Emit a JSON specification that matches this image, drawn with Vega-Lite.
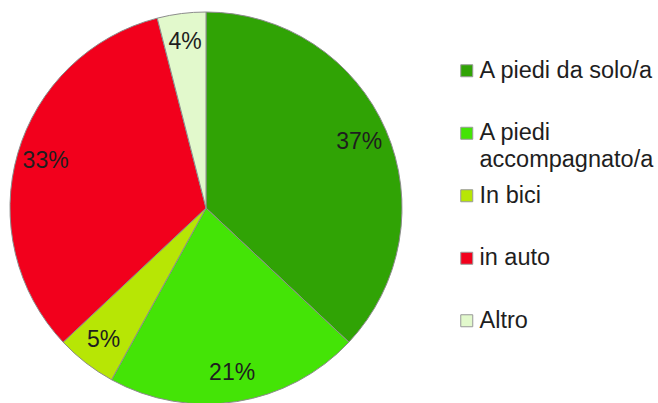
{
  "$schema": "https://vega.github.io/schema/vega-lite/v6.json",
  "width": 412,
  "height": 416,
  "autosize": {"type": "none"},
  "padding": {"left": 0, "top": 0, "right": 246, "bottom": 0},
  "background": "white",
  "config": {
    "view": {"stroke": null},
    "font": "Liberation Sans",
    "style": {"guide-label": {"lineHeight": 27}}
  },
  "data": {
    "values": [
      {"mezzo": "A piedi da solo/a", "quota": 0.37, "ord": 1},
      {"mezzo": "A piedi accompagnato/a", "quota": 0.21, "ord": 2},
      {"mezzo": "In bici", "quota": 0.05, "ord": 3},
      {"mezzo": "in auto", "quota": 0.33, "ord": 4},
      {"mezzo": "Altro", "quota": 0.04, "ord": 5}
    ]
  },
  "encoding": {
    "theta": {"field": "quota", "type": "quantitative", "stack": true},
    "order": {"field": "ord", "type": "quantitative"}
  },
  "layer": [
    {
      "mark": {"type": "arc", "outerRadius": 196, "stroke": "#8c8c8c", "strokeWidth": 1},
      "encoding": {
        "color": {
          "field": "mezzo",
          "type": "nominal",
          "sort": ["A piedi da solo/a", "A piedi accompagnato/a", "In bici", "in auto", "Altro"],
          "scale": {
            "domain": ["A piedi da solo/a", "A piedi accompagnato/a", "In bici", "in auto", "Altro"],
            "range": ["#30a305", "#44e406", "#b7e605", "#f2001c", "#e2f9cc"]
          },
          "legend": {
            "title": null,
            "orient": "none",
            "legendX": 455,
            "legendY": 59,
            "padding": 0,
            "gridAlign": "all",
            "symbolType": "square",
            "symbolSize": 144,
            "symbolStrokeColor": "#999999",
            "symbolStrokeWidth": 1,
            "labelFont": "Liberation Sans",
            "labelFontSize": 23.5,
            "labelColor": "#1e1e1e",
            "labelLimit": 400,
            "labelOffset": 1,
            "rowPadding": 10.5,
            "labelExpr": "datum.label == 'A piedi accompagnato/a' ? ['A piedi', 'accompagnato/a'] : datum.label"
          }
        }
      }
    },
    {
      "mark": {"type": "text", "radius": 167, "fontSize": 23, "font": "Liberation Sans", "color": "#1e1e1e"},
      "encoding": {
        "text": {"field": "quota", "type": "quantitative", "format": ".0%"}
      }
    }
  ]
}
